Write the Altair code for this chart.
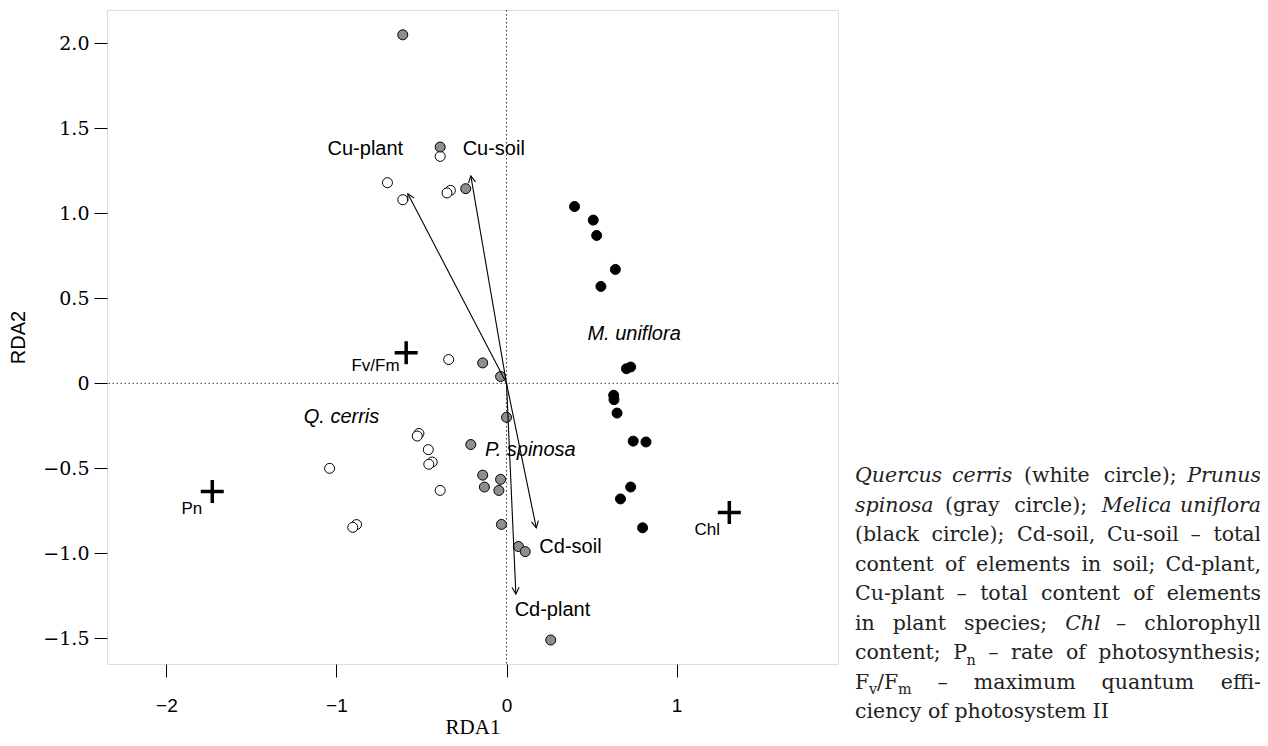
import altair as alt
import pandas as pd

# ---------------- data ----------------
white_x = [-0.34, -0.515, -0.525, -0.46, -0.437, -0.457, -1.04, -0.39, -0.882, -0.904, -0.39, -0.70, -0.61, -0.33, -0.35]
white_y = [0.14, -0.295, -0.31, -0.39, -0.463, -0.476, -0.50, -0.63, -0.831, -0.847, 1.335, 1.18, 1.08, 1.135, 1.12]

gray_x = [-0.61, -0.39, -0.24, -0.14, -0.035, 0.0, -0.21, -0.14, -0.035, -0.13, -0.045, -0.03, 0.07, 0.11, 0.26]
gray_y = [2.05, 1.39, 1.145, 0.12, 0.04, -0.20, -0.36, -0.54, -0.565, -0.61, -0.63, -0.83, -0.96, -0.99, -1.51]

black_x = [0.40, 0.51, 0.53, 0.64, 0.555, 0.705, 0.73, 0.63, 0.632, 0.65, 0.745, 0.82, 0.73, 0.67, 0.80]
black_y = [1.04, 0.96, 0.87, 0.67, 0.57, 0.086, 0.096, -0.07, -0.096, -0.175, -0.34, -0.345, -0.61, -0.68, -0.85]

env_names = ["Cu-plant", "Cu-soil", "Cd-soil", "Cd-plant"]
env_x = [-0.58, -0.21, 0.175, 0.055]
env_y = [1.115, 1.22, -0.85, -1.24]
env_lab_x = [-0.83, -0.075, 0.376, 0.27]
env_lab_y = [1.38, 1.38, -0.96, -1.335]

species_names = ["Q. cerris", "P. spinosa", "M. uniflora"]
species_x = [-0.97, 0.14, 0.75]
species_y = [-0.20, -0.39, 0.29]

trait_names = ["Fv/Fm", "Pn", "Chl"]
trait_x = [-0.59, -1.73, 1.31]
trait_y = [0.18, -0.637, -0.76]
trait_lab_x = [-0.77, -1.85, 1.18]
trait_lab_y = [0.10, -0.74, -0.86]

x_ticks = [-2, -1, 0, 1]
y_ticks = [-1.5, -1.0, -0.5, 0, 0.5, 1.0, 1.5, 2.0]

caption_lines = [
    [[("Quercus", "i")], [("cerris", "i")], [("(white", "r")], [("circle);", "r")], [("Prunus", "i")]],
    [[("spinosa", "i")], [("(gray", "r")], [("circle);", "r")], [("Melica", "i")], [("uniflora", "i")]],
    [[("(black", "r")], [("circle);", "r")], [("Cd-soil,", "r")], [("Cu-soil", "r")], [("–", "r")], [("total", "r")]],
    [[("content", "r")], [("of", "r")], [("elements", "r")], [("in", "r")], [("soil;", "r")], [("Cd-plant,", "r")]],
    [[("Cu-plant", "r")], [("–", "r")], [("total", "r")], [("content", "r")], [("of", "r")], [("elements", "r")]],
    [[("in", "r")], [("plant", "r")], [("species;", "r")], [("Chl", "i")], [("–", "r")], [("chlorophyll", "r")]],
    [[("content;", "r")], [("P", "r"), ("n", "s")], [("–", "r")], [("rate", "r")], [("of", "r")], [("photosynthesis;", "r")]],
    [[("F", "r"), ("v", "s"), ("/F", "r"), ("m", "s")], [("–", "r")], [("maximum", "r")], [("quantum", "r")], [("effi-", "r")]],
    [[("ciency", "r")], [("of", "r")], [("photosystem", "r")], [("II", "r")]],
]

# ---------------- layout constants ----------------
X_DOM = [-2.349, 1.949]
Y_DOM = [-1.651, 2.196]
W, H = 731, 654
PAD_L, PAD_T = 99, 2
OX, OY = 8 + PAD_L, 8 + PAD_T  # page position of plot origin

SERIF = "DejaVu Serif"
FS = 20.5
CAP_L, CAP_R = 855, 1261
CAP_Y0, CAP_DY = 482, 29.5

REG = {' ': 0.318, 'a': 0.596, 'b': 0.640, 'c': 0.560, 'd': 0.640, 'e': 0.592, 'f': 0.370,
       'g': 0.640, 'h': 0.644, 'i': 0.320, 'k': 0.605, 'l': 0.320, 'm': 0.948, 'n': 0.644,
       'o': 0.602, 'p': 0.640, 'q': 0.640, 'r': 0.478, 's': 0.513, 't': 0.402, 'u': 0.644,
       'v': 0.565, 'w': 0.856, 'x': 0.564, 'y': 0.565, 'z': 0.530, 'C': 0.715, 'Q': 0.787,
       'P': 0.653, 'M': 0.995, 'F': 0.683, 'I': 0.472, '(': 0.390, ')': 0.390, ';': 0.337,
       ',': 0.318, '-': 0.338, '–': 0.500, '/': 0.337, '.': 0.318}


def piece_w(t, s):
    w = sum(REG.get(c, 0.6) for c in t) * FS
    if s == "i":
        w *= 0.96
    if s == "s":
        w *= 0.7
    return w


pieces = []
n_lines = len(caption_lines)
for li, words in enumerate(caption_lines):
    yb = CAP_Y0 + li * CAP_DY
    widths = [sum(piece_w(t, s) for t, s in w) for w in words]
    justified = li < n_lines - 1
    if justified:
        gap = (CAP_R - CAP_L - sum(widths)) / (len(words) - 1)
    else:
        gap = REG[' '] * FS
    x = CAP_L
    for wi, w in enumerate(words):
        last = justified and wi == len(words) - 1 and len(w) == 1
        if last:
            t, s = w[0]
            pieces.append(dict(t=t, x=CAP_R, y=yb, s=s, align="right"))
            continue
        px = x
        for t, s in w:
            pieces.append(dict(t=t, x=px, y=yb + (0.28 * FS if s == "s" else 0), s=s, align="left"))
            px += piece_w(t, s)
        x += widths[wi] + gap

# ---------------- encodings ----------------
xscale = alt.Scale(domain=X_DOM, nice=False, zero=False)
yscale = alt.Scale(domain=Y_DOM, nice=False, zero=False)

xaxis = alt.Axis(values=x_ticks, title="RDA1", grid=False, domain=False, ticks=True,
                 tickSize=13, tickColor="black", tickWidth=1,
                 labelFont="Liberation Sans", labelFontSize=19, labelColor="black",
                 labelPadding=19, labelBaseline="top", labelFlush=False, labelOverlap=False,
                 titleFont="Liberation Serif", titleFontSize=21, titleFontWeight="normal",
                 titleColor="black", titleY=63, titleX=W / 2, titleBaseline="middle")
yaxis = alt.Axis(values=y_ticks, title="RDA2", grid=False, domain=False, ticks=True,
                 tickSize=13, tickColor="black", tickWidth=1,
                 labelExpr="datum.value == 0 ? '0' : format(datum.value, '.1f')",
                 labelFont=SERIF, labelFontSize=19, labelColor="black", labelPadding=5,
                 labelFlush=False, labelOverlap=False,
                 titleFont="Liberation Sans", titleFontSize=20, titleFontWeight="normal",
                 titleColor="black", titleX=18 - OX, titleY=337 - OY, titleAngle=270,
                 titleAlign="center", titleBaseline="middle")


def X(f):
    return alt.X(f, type="quantitative", scale=xscale, axis=xaxis)


def Y(f):
    return alt.Y(f, type="quantitative", scale=yscale, axis=yaxis)


def pts(xs, ys):
    return pd.DataFrame({"x": xs, "y": ys})


layers = []

# dotted zero lines
layers.append(alt.Chart(pd.DataFrame({"v": [0]})).mark_rule(
    color="#333", strokeWidth=1, strokeDash=[1.5, 2.5]).encode(x=X("v")))
layers.append(alt.Chart(pd.DataFrame({"v": [0]})).mark_rule(
    color="#333", strokeWidth=1, strokeDash=[1.5, 2.5]).encode(y=Y("v")))

# sample points
for xs, ys, fill in [(white_x, white_y, "white"), (gray_x, gray_y, "#8e8e8e"), (black_x, black_y, "black")]:
    layers.append(alt.Chart(pts(xs, ys)).mark_point(
        shape="circle", filled=True, fill=fill, stroke="black", strokeWidth=1,
        size=100, opacity=1).encode(x=X("x"), y=Y("y")))

# environmental arrows
env_df = pd.DataFrame({"name": env_names, "x": env_x, "y": env_y,
                       "x0": [0.0] * len(env_x), "y0": [0.0] * len(env_y),
                       "lx": env_lab_x, "ly": env_lab_y})
layers.append(alt.Chart(env_df).mark_rule(color="black", strokeWidth=1.1).encode(
    x=X("x0"), y=Y("y0"), x2="x", y2="y"))
layers.append(alt.Chart(env_df).transform_calculate(
    ang="(atan2(datum.x, datum.y) * 180 / PI + 360) % 360").mark_point(
    shape="M -0.5 0.95 L 0 0 L 0.5 0.95", filled=False, stroke="black", strokeWidth=1.1,
    size=200, opacity=1).encode(x=X("x"), y=Y("y"), angle=alt.Angle("ang:Q", scale=None)))
layers.append(alt.Chart(env_df).mark_text(
    font="Liberation Sans", fontSize=20, color="black", align="center", baseline="middle").encode(
    x=X("lx"), y=Y("ly"), text="name:N"))

# species labels
sp_df = pd.DataFrame({"name": species_names, "x": species_x, "y": species_y})
layers.append(alt.Chart(sp_df).mark_text(
    font="Liberation Sans", fontSize=20, fontStyle="italic", color="black",
    align="center", baseline="middle").encode(x=X("x"), y=Y("y"), text="name:N"))

# trait crosses
tr_df = pd.DataFrame({"name": trait_names, "x": trait_x, "y": trait_y,
                      "lx": trait_lab_x, "ly": trait_lab_y})
layers.append(alt.Chart(tr_df).mark_point(
    shape="M -1 0 L 1 0 M 0 -1 L 0 1", filled=False, stroke="black", strokeWidth=3.5,
    size=529, opacity=1).encode(x=X("x"), y=Y("y")))
layers.append(alt.Chart(tr_df).mark_text(
    font="Liberation Sans", fontSize=17, color="black", align="center", baseline="middle").encode(
    x=X("lx"), y=Y("ly"), text="name:N"))

# caption text on the right
one = pd.DataFrame({"a": [0]})
for p in pieces:
    style = "italic" if p["s"] == "i" else "normal"
    size = FS * 0.7 if p["s"] == "s" else FS
    layers.append(alt.Chart(one).mark_text(
        font=SERIF, fontSize=size, fontStyle=style, color="#222",
        align=p["align"], baseline="alphabetic").encode(
        x=alt.value(p["x"] - OX), y=alt.value(p["y"] - OY), text=alt.value(p["t"])))

chart = alt.layer(*layers).properties(
    width=W, height=H,
    autosize=alt.AutoSizeParams(type="none"),
    padding={"left": PAD_L, "top": PAD_T, "right": 1252 - PAD_L - W, "bottom": 74},
).configure_view(stroke="#222", strokeWidth=1.4).configure(background="white")

chart.save("out.html", embed_options={"renderer": "svg", "actions": False})
